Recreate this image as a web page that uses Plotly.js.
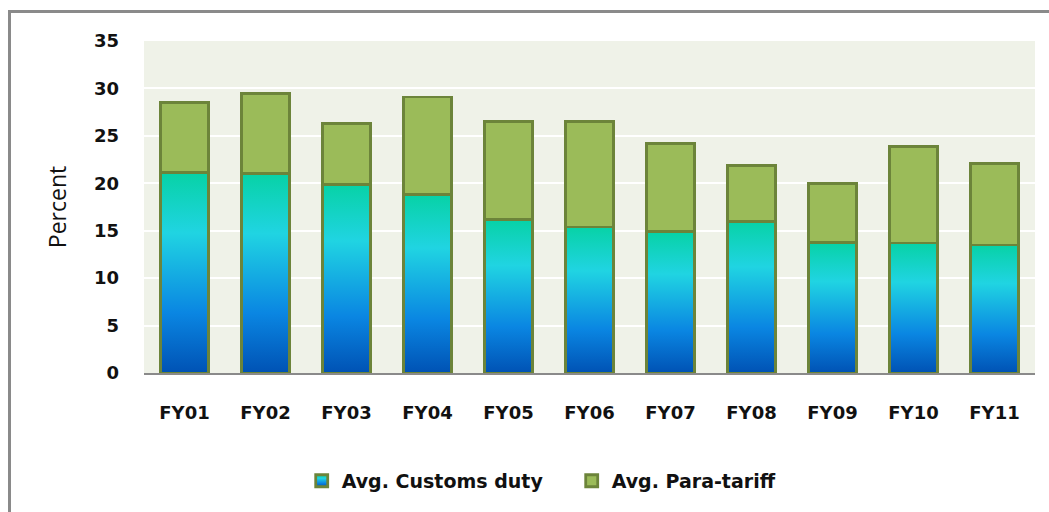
<!DOCTYPE html>
<html>
<head>
<meta charset="utf-8">
<script src="https://cdn.plot.ly/plotly-3.0.1.min.js"></script>
<style>
  html, body { margin: 0; padding: 0; background: #fff; }
  #wrap { position: relative; width: 1049px; height: 512px; }
  #frame { position: absolute; left: 8px; top: 10px; width: 1060px; height: 520px;
           border-left: 3px solid #8a8a8a; border-top: 3px solid #8a8a8a; pointer-events: none; }
  #chart { position: absolute; left: 0; top: 0; width: 1049px; height: 512px; }
</style>
</head>
<body>
<div id="wrap">
  <div id="chart"></div>
  <div id="frame"></div>
</div>
<script>
const categories = ["FY01","FY02","FY03","FY04","FY05","FY06","FY07","FY08","FY09","FY10","FY11"];
const customsDuty = [21.1, 21.0, 19.9, 18.8, 16.2, 15.4, 14.9, 16.0, 13.8, 13.7, 13.5];
const paraTariff  = [7.4, 8.5, 6.4, 10.3, 10.3, 11.1, 9.3, 5.9, 6.2, 10.2, 8.6];
const seriesNames = ["Avg. Customs duty", "Avg. Para-tariff"];

const outline = {color: "#6c843a", width: 2.8};
const font = "DejaVu Sans, Verdana, sans-serif";

const traces = [
  {type: "bar", name: seriesNames[0], x: categories, y: customsDuty,
   marker: {color: "#1aa0e0", line: outline}, hoverinfo: "x+y"},
  {type: "bar", name: seriesNames[1], x: categories, y: paraTariff,
   marker: {color: "#9bbb59", line: outline}, hoverinfo: "x+y"}
];

const layout = {
  width: 1049, height: 512,
  barmode: "stack", bargap: 0.41,
  paper_bgcolor: "rgba(0,0,0,0)",
  plot_bgcolor: "#eff2e8",
  margin: {l: 144, r: 14, t: 41, b: 139},
  font: {family: font, color: "#111"},
  xaxis: {
    type: "category", showgrid: false, zeroline: false,
    showline: true, linecolor: "#8a8a8a", linewidth: 2,
    ticks: "", ticklabelstandoff: 22,
    tickfont: {family: font, size: 18, color: "#111", weight: "bold"}
  },
  yaxis: {
    range: [0, 35], dtick: 5, tick0: 0,
    showgrid: true, gridcolor: "#ffffff", gridwidth: 2,
    zeroline: false, showline: false, ticks: "", ticklabelstandoff: 24,
    tickfont: {family: font, size: 18, color: "#111", weight: "bold"},
    title: {text: "Percent", standoff: 20, font: {family: "Open Sans, sans-serif", size: 23, color: "#111"}}
  },
  showlegend: true,
  legend: {
    orientation: "h", x: 0.177, xanchor: "left", y: -0.325, yanchor: "middle",
    font: {family: font, size: 19, color: "#111", weight: "bold"},
    itemwidth: 30, entrywidth: 225, entrywidthmode: "pixels",
    tracegroupgap: 0, traceorder: "normal",
    bgcolor: "rgba(0,0,0,0)"
  }
};

function applyGradient(gd) {
  const svg = gd.querySelector("svg.main-svg");
  const ns = "http://www.w3.org/2000/svg";
  let defs = svg.querySelector("defs");
  if (!defs) { defs = document.createElementNS(ns, "defs"); svg.insertBefore(defs, svg.firstChild); }
  if (!svg.querySelector("#customsGrad")) {
    const g = document.createElementNS(ns, "linearGradient");
    g.setAttribute("id", "customsGrad");
    g.setAttribute("x1", "0"); g.setAttribute("y1", "0");
    g.setAttribute("x2", "0"); g.setAttribute("y2", "1");
    const stops = [[0, "#07d2a6"], [0.3, "#20d4e2"], [0.7, "#0a86e2"], [1, "#0052b4"]];
    stops.forEach(([o, c]) => {
      const s = document.createElementNS(ns, "stop");
      s.setAttribute("offset", o); s.setAttribute("stop-color", c);
      g.appendChild(s);
    });
    defs.appendChild(g);
  }
  const barTraces = gd.querySelectorAll(".barlayer .trace");
  if (barTraces.length) {
    barTraces[0].querySelectorAll("path").forEach(p => { p.style.fill = "url(#customsGrad)"; });
  }
  const legTraces = gd.querySelectorAll(".legend .traces");
  if (legTraces.length) {
    legTraces[0].querySelectorAll(".legendpoints path").forEach(p => { p.style.fill = "url(#customsGrad)"; });
  }
}

Plotly.newPlot("chart", traces, layout, {displayModeBar: false, staticPlot: true}).then(gd => {
  applyGradient(gd);
});
</script>
</body>
</html>
